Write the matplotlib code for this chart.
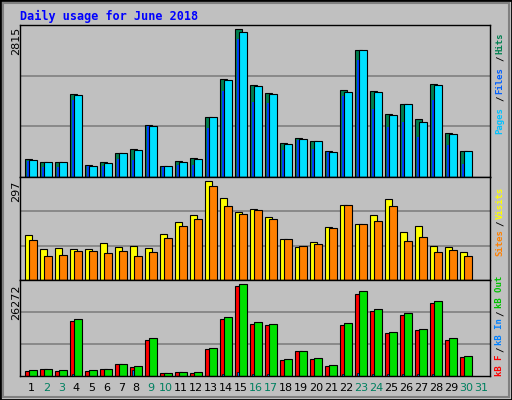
import matplotlib
matplotlib.use("Agg")
import matplotlib.pyplot as plt
from matplotlib.patches import Rectangle

days = list(range(1, 32))
weekend = [2, 3, 9, 10, 16, 17, 23, 24, 30, 31]

hits = [345, 287, 287, 1589, 230, 287, 460, 536, 996, 211, 306, 364, 1149, 1877, 2815,
        1762, 1609, 651, 747, 689, 498, 1666, 2413, 1647, 1206, 1398, 1111, 1781, 843, 498]
files = [326, 287, 287, 1570, 211, 268, 460, 517, 977, 211, 287, 345, 1149, 1857, 2757,
         1743, 1589, 632, 728, 689, 479, 1628, 2413, 1628, 1187, 1398, 1053, 1762, 823, 498]
pages = [306, 191, 191, 1474, 211, 211, 345, 326, 977, 191, 230, 230, 938, 1647, 2623,
         1436, 1417, 517, 709, 536, 479, 1551, 2240, 1302, 957, 1053, 766, 1474, 613, 249]

visits = [136, 94, 97, 94, 94, 110, 100, 103, 97, 139, 174, 194, 297, 245, 203,
          213, 190, 123, 100, 113, 158, 226, 168, 194, 242, 145, 161, 103, 100, 84]
sites = [119, 71, 74, 87, 87, 81, 87, 71, 84, 126, 161, 184, 281, 223, 197,
         210, 184, 123, 103, 107, 155, 226, 168, 178, 223, 116, 129, 84, 90, 71]

kb_f = [1443, 2020, 1443, 15584, 1443, 2020, 3463, 2597, 10390, 866, 1154, 866, 7792, 16162, 25685,
        14719, 14430, 4618, 7215, 4906, 2886, 14430, 23377, 18470, 12121, 17316, 12987, 20779, 10390, 5483]
kb_out = [1732, 2020, 1732, 16162, 1732, 2020, 3463, 2886, 10678, 866, 1154, 1154, 8081, 16739, 26272,
          15296, 14719, 4906, 7215, 5195, 3175, 15007, 24242, 19048, 12410, 17893, 13276, 21356, 10678, 5772]
kb_in = [100, 100, 100, 577, 100, 100, 100, 1732, 100, 100, 100, 100, 100, 577, 1154,
         577, 577, 100, 100, 100, 100, 577, 866, 577, 577, 577, 577, 577, 100, 100]

W, H = 512, 400
GREY = "#C0C0C0"
MONO = "DejaVu Sans Mono"

fig = plt.figure(figsize=(W / 100, H / 100), dpi=100, facecolor=GREY)

# outer frame
fig.patches.append(Rectangle((0, 0), 1, 1, transform=fig.transFigure, fill=False,
                             edgecolor="black", linewidth=2))
fig.patches.append(Rectangle((3 / W, 3 / H), 1 - 6 / W, 1 - 6 / H, transform=fig.transFigure,
                             fill=False, edgecolor="#808080", linewidth=1.5))


def make_ax(top, bottom):
    ax = fig.add_axes([20 / W, 1 - bottom / H, 470 / W, (bottom - top) / H])
    ax.set_facecolor(GREY)
    ax.set_xlim(0.65, 0.65 + 470 / 15)
    for s in ax.spines.values():
        s.set_color("black")
        s.set_linewidth(1)
    ax.set_yticks([])
    ax.set_xticks([])
    return ax


def grid(ax, top):
    ax.set_ylim(0, top)
    for g in (top / 3, top * 2 / 3):
        ax.axhline(g, color="#808080", linewidth=1.2, zorder=0)


x = days[:len(hits)]
xb = [d for d in x]
xf = [d + 0.27 for d in x]
xp = [d + 0.13 for d in x]
BW = 0.48
kw = dict(align="edge", edgecolor="black", linewidth=0.8, zorder=2)

ax1 = make_ax(25, 177)
grid(ax1, 2815 * 454 / 441)
ax1.bar(xb, hits, width=BW, color="#008050", **kw)
ax1.bar(xp, pages, width=0.17, color="#0040FF", align="edge", linewidth=0, zorder=2)
ax1.bar(xf, files, width=BW, color="#00E0FF", **kw)

ax2 = make_ax(177, 280)
grid(ax2, 297 * 287 / 276)
ax2.bar(xb, visits, width=BW, color="#FFFF00", **kw)
ax2.bar(xf, sites, width=BW, color="#FF8000", **kw)

ax3 = make_ax(280, 376)
grid(ax3, 26272 * 284 / 273)
ax3.bar(xb, kb_f, width=BW, color="#FF0000", **kw)
ax3.bar(xp, kb_in, width=0.17, color="#0080FF", edgecolor="black", linewidth=0.5,
        align="edge", zorder=2)
ax3.bar(xf, kb_out, width=BW, color="#00E000", **kw)

ax3.set_xticks([d + 0.4 for d in days])
ax3.set_xticklabels([str(d) for d in days], fontsize=8, family="DejaVu Sans")
ax3.tick_params(axis="x", length=0, pad=5)
for lab, d in zip(ax3.get_xticklabels(), days):
    lab.set_color("#008060" if d in weekend else "black")

# title
fig.text(20 / W, 1 - 16 / H, "Daily usage for June 2018", color="#0000FF",
         family=MONO, fontweight="bold", fontsize=8.5, va="center")

# max value labels
for lbl, ytop in (("2815", 27), ("297", 181), ("26272", 284)):
    fig.text(16 / W, 1 - ytop / H, lbl, rotation=90, ha="center", va="top",
             fontsize=8, family="DejaVu Sans")


def vlabel(parts, ybottom, step=5.1):
    y = ybottom
    for txt, col in parts:
        fig.text(500 / W, 1 - y / H, txt, rotation=90, ha="center", va="bottom",
                 color=col, family=MONO, fontsize=6.5, fontweight="bold")
        y -= step * len(txt) + 1.5


vlabel([("Pages", "#00C0FF"), ("/", "black"), ("Files", "#0060FF"),
        ("/", "black"), ("Hits", "#008050")], 134, step=6.2)
vlabel([("Sites", "#FF8000"), ("/", "black"), ("Visits", "#FFFF00")], 256, step=5.6)
vlabel([("kB F", "#FF0000"), ("/", "black"), ("kB In", "#0080FF"),
        ("/", "black"), ("kB Out", "#00C000")], 376, step=5.6)

fig.savefig("out.png", dpi=100, facecolor=GREY)
